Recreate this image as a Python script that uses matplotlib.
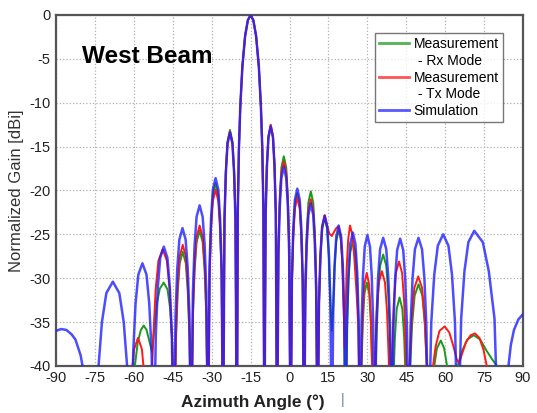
import matplotlib
matplotlib.use('Agg')
import matplotlib.pyplot as plt
from matplotlib.lines import Line2D

plt.rcParams['font.family'] = ['Liberation Sans', 'DejaVu Sans']
plt.rcParams['axes.unicode_minus'] = False

# Simulation (blue) - angle [deg], gain [dBi]
sim_angle = [-90.0, -88.0, -86.0, -84.0, -82.5, -80.5, -79.2, -75.1,
             -73.7, -72.3, -70.6, -68.1, -65.6, -63.9, -62.5, -61.1,
             -60.22, -59.34, -58.28, -56.7, -55.12, -54.06, -53.18, -52.3,
             -51.53, -50.76, -49.84, -48.45, -47.06, -46.14, -45.37, -44.6,
             -43.93, -43.26, -42.46, -41.25, -40.04, -39.24, -38.57, -37.9,
             -37.25, -36.6, -35.82, -34.65, -33.48, -32.7, -32.05, -31.4,
             -30.82, -30.24, -29.54, -28.5, -27.46, -26.76, -26.18, -25.6,
             -25.07, -24.54, -23.9, -22.95, -22.0, -21.36, -20.83, -20.3,
             -19.93, -19.5, -18.98, -18.18, -17.12, -16.06, -15.0,
             -13.94, -12.88, -11.82, -11.02, -10.5, -10.07, -9.7,
             -9.21, -8.72, -8.13, -7.25, -6.37, -5.78, -5.29, -4.8,
             -4.28, -3.76, -3.14, -2.2, -1.26, -0.64, -0.12, 0.4,
             0.92, 1.44, 2.06, 3.0, 3.94, 4.56, 5.08, 5.6,
             6.12, 6.64, 7.26, 8.2, 9.14, 9.76, 10.28, 10.8,
             11.35, 11.9, 12.56, 13.55, 14.54, 15.2, 15.75, 16.3,
             16.83, 17.36, 18.0, 18.95, 19.9, 20.54, 21.07, 21.6,
             22.16, 22.72, 23.39, 24.4, 25.41, 26.08, 26.64, 27.2,
             27.76, 28.32, 28.99, 30.0, 31.01, 31.68, 32.24, 32.8,
             33.46, 34.12, 34.91, 36.1, 37.29, 38.08, 38.74, 39.4,
             40.05, 40.7, 41.48, 42.65, 43.82, 44.6, 45.25, 45.9,
             46.66, 47.42, 48.33, 49.7, 51.07, 51.98, 52.74, 53.5,
             54.64, 55.78, 57.15, 59.2, 61.25, 62.62, 63.76, 64.9,
             66.16, 67.42, 68.93, 71.2, 74.5, 76.8, 79.0, 80.6,
             83.0, 84.2, 85.3, 86.5, 88.2, 90.0]
sim_gain = [-36.0, -35.8, -35.9, -36.4, -37.0, -38.8, -41.0, -50.0,
            -40.4, -35.0, -31.7, -30.4, -31.7, -35.0, -40.4, -50.0,
            -38.3, -32.9, -29.6, -28.3, -29.6, -32.9, -38.3, -50.0,
            -36.4, -31.0, -27.7, -26.4, -27.7, -31.0, -36.4, -50.0,
            -34.3, -28.9, -25.6, -24.3, -25.6, -28.9, -34.3, -50.0,
            -31.7, -26.3, -23.0, -21.7, -23.0, -26.3, -31.7, -50.0,
            -28.6, -23.2, -19.9, -18.6, -19.9, -23.2, -28.6, -50.0,
            -23.4, -18.0, -14.7, -13.4, -14.7, -18.0, -23.4, -50.0,
            -22.2, -15.2, -10.5, -5.9, -2.4, -0.6, 0.0,
            -0.6, -2.4, -5.9, -10.5, -15.2, -22.2, -50.0,
            -22.7, -17.3, -14.0, -12.7, -14.0, -17.3, -22.7, -50.0,
            -27.3, -21.9, -18.6, -17.3, -18.6, -21.9, -27.3, -50.0,
            -29.8, -24.4, -21.1, -19.8, -21.1, -24.4, -29.8, -50.0,
            -31.5, -26.1, -22.8, -21.5, -22.8, -26.1, -31.5, -50.0,
            -32.9, -27.5, -24.2, -22.9, -24.2, -27.5, -32.9, -50.0,
            -34.0, -28.6, -25.3, -24.0, -25.3, -28.6, -34.0, -50.0,
            -34.8, -29.4, -26.1, -24.8, -26.1, -29.4, -34.8, -50.0,
            -35.1, -29.7, -26.4, -25.1, -26.4, -29.7, -35.1, -50.0,
            -35.4, -30.0, -26.7, -25.4, -26.7, -30.0, -35.4, -50.0,
            -35.5, -30.1, -26.8, -25.5, -26.8, -30.1, -35.5, -50.0,
            -35.4, -30.0, -26.7, -25.4, -26.7, -30.0, -35.4, -50.0,
            -35.0, -29.6, -26.3, -25.0, -26.3, -29.6, -35.0, -50.0,
            -34.6, -29.2, -25.9, -24.6, -25.9, -29.2, -34.6, -50.0,
            -50.0, -40.5, -37.6, -35.9, -34.7, -34.1]

# Measurement - Tx mode (red)
tx_angle = [-62.6, -61.76, -60.92, -59.91, -58.4, -56.89, -55.88, -55.04, -54.2,
            -52.5, -51.6, -50.52, -48.9, -47.28, -46.2, -45.3, -44.4,
            -43.75, -43.1, -42.32, -41.15, -39.98, -39.2, -38.55, -37.9,
            -37.25, -36.6, -35.82, -34.65, -33.48, -32.7, -32.05, -31.4,
            -30.82, -30.24, -29.54, -28.5, -27.46, -26.76, -26.18, -25.6,
            -25.07, -24.54, -23.9, -22.95, -22.0, -21.36, -20.83, -20.3,
            -19.93, -19.5, -18.98, -18.18, -17.12, -16.06, -15.0,
            -13.94, -12.88, -11.82, -11.02, -10.5, -10.07, -9.7,
            -9.21, -8.72, -8.13, -7.25, -6.37, -5.78, -5.29, -4.8,
            -4.28, -3.76, -3.14, -2.2, -1.26, -0.64, -0.12, 0.4,
            0.92, 1.44, 2.06, 3.0, 3.94, 4.56, 5.08, 5.6,
            6.12, 6.64, 7.26, 8.2, 9.14, 9.76, 10.28, 10.8,
            11.35, 11.9, 12.56, 13.55, 14.54, 15.3, 16.3, 17.2, 18.0, 18.8,
            19.7, 20.3, 20.8, 21.3,
            22.0, 22.6, 23.3, 24.2, 25.0, 25.9, 26.5, 27.2,
            27.71, 28.22, 28.83, 29.75, 30.67, 31.28, 31.79, 32.3,
            32.96, 33.62, 34.41, 35.6, 36.79, 37.58, 38.24, 38.9,
            39.56, 40.22, 41.01, 42.2, 43.39, 44.18, 44.84, 45.5,
            46.32, 47.14, 48.12, 49.6, 51.08, 52.06, 52.88, 53.7,
            54.5, 55.3, 56.3, 57.8, 59.8, 61.6, 63.2, 64.4, 65.3,
            66.3, 68.0, 69.8, 71.5, 73.2, 74.8, 76.0, 77.0]
tx_gain = [-50.0, -46.8, -41.4, -38.1, -36.8, -38.1, -41.4, -46.8, -50.0,
           -36.7, -31.3, -28.0, -26.7, -28.0, -31.3, -36.7, -50.0,
           -36.2, -30.8, -27.5, -26.2, -27.5, -30.8, -36.2, -50.0,
           -34.0, -28.6, -25.3, -24.0, -25.3, -28.6, -34.0, -50.0,
           -29.9, -24.5, -21.2, -19.9, -21.2, -24.5, -29.9, -50.0,
           -23.3, -17.9, -14.6, -13.3, -14.6, -17.9, -23.3, -50.0,
           -22.2, -15.2, -10.5, -5.9, -2.4, -0.6, 0.0,
           -0.6, -2.4, -5.9, -10.5, -15.2, -22.2, -50.0,
           -22.5, -17.1, -13.8, -12.5, -13.8, -17.1, -22.5, -50.0,
           -26.7, -21.3, -18.0, -16.7, -18.0, -21.3, -26.7, -50.0,
           -30.8, -25.4, -22.1, -20.8, -22.1, -25.4, -30.8, -50.0,
           -31.0, -25.6, -22.3, -21.0, -22.3, -25.6, -31.0, -50.0,
           -32.8, -27.4, -24.1, -22.8, -24.0, -24.9, -25.2, -24.7, -24.3, -24.1,
           -25.2, -28.0, -33.0, -38.0,
           -29.0, -25.6, -24.0, -25.0, -27.8, -32.0, -35.5, -50.0,
           -39.4, -34.0, -30.7, -29.4, -30.7, -34.0, -39.4, -50.0,
           -39.2, -33.8, -30.5, -29.2, -30.5, -33.8, -39.2, -50.0,
           -38.1, -32.7, -29.4, -28.1, -29.4, -32.7, -38.1, -50.0,
           -39.8, -34.4, -31.1, -29.8, -31.1, -34.4, -39.8, -50.0,
           -50.0, -40.0, -37.8, -36.0, -35.5, -36.2, -37.8, -39.2, -39.7,
           -38.8, -37.3, -36.5, -36.3, -36.8, -38.2, -40.0, -50.0]

# Measurement - Rx mode (green)
rx_angle = [-60.5, -59.6, -58.5, -57.3, -56.2, -55.1, -54.0, -53.0,
            -52.2, -51.2, -50.0, -48.5, -47.0, -46.0, -45.2, -44.4,
            -43.75, -43.1, -42.32, -41.15, -39.98, -39.2, -38.55, -37.9,
            -37.25, -36.6, -35.82, -34.65, -33.48, -32.7, -32.05, -31.4,
            -30.82, -30.24, -29.54, -28.5, -27.46, -26.76, -26.18, -25.6,
            -25.07, -24.54, -23.9, -22.95, -22.0, -21.36, -20.83, -20.3,
            -19.93, -19.5, -18.98, -18.18, -17.12, -16.06, -15.0,
            -13.94, -12.88, -11.82, -11.02, -10.5, -10.07, -9.7,
            -9.21, -8.72, -8.13, -7.25, -6.37, -5.78, -5.29, -4.8,
            -4.28, -3.76, -3.14, -2.2, -1.26, -0.64, -0.12, 0.4,
            0.92, 1.44, 2.06, 3.0, 3.94, 4.56, 5.08, 5.6,
            6.12, 6.64, 7.26, 8.2, 9.14, 9.76, 10.28, 10.8,
            11.35, 11.9, 12.56, 13.55, 14.54, 15.2, 15.75, 16.3,
            16.83, 17.36, 18.0, 18.95, 19.9, 20.54, 21.07, 21.6,
            22.16, 22.72, 23.39, 24.4, 25.41, 26.08, 26.64, 27.2,
            27.72, 28.24, 28.86, 29.8, 30.74, 31.36, 31.88, 32.4,
            33.46, 34.12, 34.91, 36.1, 37.29, 38.08, 38.74, 39.4,
            40.0, 40.6, 41.32, 42.4, 43.48, 44.2, 44.8, 45.4,
            46.42, 47.24, 48.22, 49.7, 51.18, 52.16, 52.98, 53.8,
            55.0, 55.8, 56.8, 58.3, 59.6, 60.6, 61.5,
            63.5, 64.8, 66.5, 68.5, 71.0, 73.5, 75.8, 78.0, 79.9, 81.0]
rx_gain = [-50.0, -40.0, -37.3, -35.9, -35.4, -35.9, -37.2, -38.4,
           -36.0, -33.0, -31.2, -30.5, -31.3, -33.5, -37.5, -50.0,
           -37.0, -31.6, -28.3, -27.0, -28.3, -31.6, -37.0, -50.0,
           -34.6, -29.2, -25.9, -24.6, -25.9, -29.2, -34.6, -50.0,
           -29.2, -23.8, -20.5, -19.2, -20.5, -23.8, -29.2, -50.0,
           -23.1, -17.7, -14.4, -13.1, -14.4, -17.7, -23.1, -50.0,
           -22.2, -15.2, -10.5, -5.9, -2.4, -0.6, 0.0,
           -0.6, -2.4, -5.9, -10.5, -15.2, -22.2, -50.0,
           -22.6, -17.2, -13.9, -12.6, -13.9, -17.2, -22.6, -50.0,
           -26.1, -20.7, -17.4, -16.1, -17.4, -20.7, -26.1, -50.0,
           -30.3, -24.9, -21.6, -20.3, -21.6, -24.9, -30.3, -50.0,
           -30.1, -24.7, -21.4, -20.1, -21.4, -24.7, -30.1, -50.0,
           -33.1, -27.7, -24.4, -23.1, -24.4, -27.7, -33.1, -36.0,
           -33.0, -28.8, -25.8, -24.5, -25.8, -29.1, -34.5, -50.0,
           -35.8, -30.4, -27.1, -25.8, -27.1, -30.4, -35.8, -50.0,
           -40.5, -35.1, -31.8, -30.5, -31.8, -35.1, -40.5, -50.0,
           -37.3, -31.9, -28.6, -27.3, -28.6, -31.9, -37.3, -50.0,
           -42.2, -36.8, -33.5, -32.2, -33.5, -36.8, -42.2, -50.0,
           -40.7, -35.3, -32.0, -30.7, -32.0, -35.3, -40.7, -50.0,
           -50.0, -40.0, -38.0, -37.1, -38.0, -39.8, -50.0,
           -50.0, -40.0, -38.3, -37.0, -36.5, -37.0, -38.2, -39.2, -40.0, -50.0]

xticks = list(range(-90, 91, 15))
yticks = list(range(-40, 1, 5))
legend_labels = ['Measurement', ' - Rx Mode', 'Measurement', ' - Tx Mode', 'Simulation']

fig = plt.figure(figsize=(5.37, 4.13), dpi=100)
ax = fig.add_axes([0.1043, 0.114, 0.8697, 0.8497])

l_rx, = ax.plot(rx_angle, rx_gain, color='#1a9a1a', lw=1.4, zorder=3)
l_tx, = ax.plot(tx_angle, tx_gain, color='#ff1a1a', lw=1.4, zorder=4)
l_sim, = ax.plot(sim_angle, sim_gain, color='#2020ff', lw=1.8, alpha=0.8, zorder=5)

ax.set_xlim(-90, 90)
ax.set_ylim(-40, 0)
ax.set_xticks(xticks)
ax.set_yticks(yticks)
ax.tick_params(length=0, pad=4, labelsize=10.5, colors='#222222')
ax.grid(True, linestyle=':', color='#b0b0b0', lw=0.9)
for s in ax.spines.values():
    s.set_color('#555555')
    s.set_linewidth(1.6)

ax.set_ylabel('Normalized Gain [dBi]', fontsize=12, color='#333333', labelpad=4)
fig.text(253 / 537, 1 - 402 / 413, 'Azimuth Angle (°)', ha='center', va='center',
         fontsize=12.4, fontweight='bold', color='#222222')
fig.text(343 / 537, 1 - 400 / 413, '|', ha='center', va='center', fontsize=10, color='#6a7fa0')

ax.text(0.056, 0.883, 'West Beam', transform=ax.transAxes, fontsize=17.5, fontweight='bold',
        va='center', ha='left', color='black')

# legend rows: the second line of each measurement label has no line sample
h_rx = Line2D([], [], color='#1a9a1a', lw=2.0, alpha=0.75)
h_tx = Line2D([], [], color='#ff1a1a', lw=2.0, alpha=0.75)
h_sim = Line2D([], [], color='#2020ff', lw=2.0, alpha=0.75)
blank = Line2D([], [], color='none')
leg = ax.legend([h_rx, blank, h_tx, blank, h_sim], legend_labels,
                loc='upper right', bbox_to_anchor=(0.957, 0.9487), fontsize=10, frameon=True,
                fancybox=False, edgecolor='#555555', handlelength=2.2, handletextpad=0.3,
                labelspacing=0.2, borderpad=0.3, borderaxespad=0)
leg.get_frame().set_linewidth(1.0)

fig.savefig('out.png', dpi=100)
